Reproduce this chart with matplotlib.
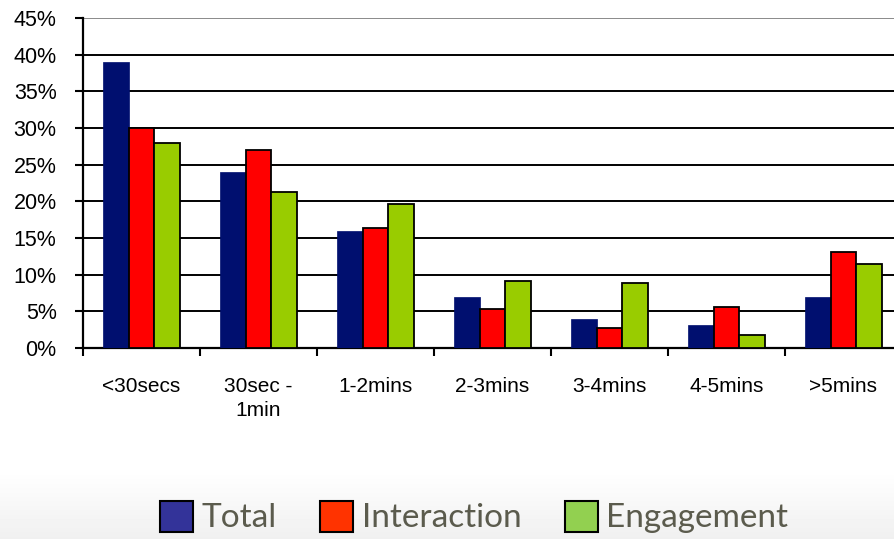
import numpy as np
import matplotlib.pyplot as plt
from matplotlib.patches import Patch

categories = ["<30secs", "30sec -\n1min", "1-2mins", "2-3mins", "3-4mins", "4-5mins", ">5mins"]
total = [39, 24, 16, 6.9, 3.9, 3.1, 6.9]
interaction = [30, 27, 16.4, 5.3, 2.7, 5.6, 13.1]
engagement = [28, 21.3, 19.6, 9.1, 8.8, 1.8, 11.4]
series_names = ["Total", "Interaction", "Engagement"]

fig = plt.figure(figsize=(8.95, 5.39), dpi=100)

# soft grey fade along the bottom of the slide
bg = fig.add_axes([0, 0, 1, 1], zorder=-10)
fade = np.ones((539, 1))
start = 470
fade[start:, 0] = np.linspace(1.0, 0.94, 539 - start)
bg.imshow(fade, cmap="gray", vmin=0, vmax=1, aspect="auto", extent=[0, 1, 0, 1])
bg.axis("off")

ax = fig.add_axes([83 / 895, 191 / 539, 819 / 895, 330 / 539])
x = np.arange(len(categories))
w = 0.222

ax.bar(x - w, total, w, color="#000f6f", edgecolor="#000f6f", linewidth=0.5, zorder=3)
ax.bar(x, interaction, w, color="#ff0000", edgecolor="black", linewidth=1.3, zorder=3)
ax.bar(x + w, engagement, w, color="#99cc00", edgecolor="black", linewidth=1.3, zorder=3)

ax.set_xlim(-0.5, len(categories) - 0.5)
ax.set_ylim(0, 45)
ax.set_yticks(np.arange(0, 46, 5))
ax.set_yticklabels([f"{v}%" for v in range(0, 46, 5)], fontfamily="Liberation Sans", fontsize=15.5)
ax.yaxis.grid(True, color="black", linewidth=1.4)
ax.get_ygridlines()[-1].set_color("#8a8a8a")
ax.set_axisbelow(True)

# category labels sit between the boundary ticks
ax.set_xticks(x)
ax.set_xticklabels(categories, fontfamily="Liberation Sans", fontsize=15, linespacing=1.35)
ax.tick_params(axis="x", length=0, pad=21)
ax.set_xticks(np.arange(-0.5, len(categories)), minor=True)
ax.tick_params(axis="x", which="minor", length=6, width=1.5, color="black")
ax.tick_params(axis="y", length=6, width=1.5, color="black", pad=13)

for side in ["top", "right"]:
    ax.spines[side].set_visible(False)
for side in ["left", "bottom"]:
    ax.spines[side].set_linewidth(1.6)
    ax.spines[side].set_color("black")

handles = [
    Patch(facecolor="#333399", edgecolor="black", linewidth=1.5),
    Patch(facecolor="#ff3300", edgecolor="black", linewidth=1.5),
    Patch(facecolor="#92d050", edgecolor="black", linewidth=1.5),
]
leg = fig.legend(handles, series_names, loc="center", bbox_to_anchor=(474 / 895, 1 - 517 / 539),
                 ncol=3, frameon=False, handlelength=1.0, handleheight=1.05,
                 handletextpad=0.25, columnspacing=1.3,
                 prop={"family": "Lato", "size": 24})
for t in leg.get_texts():
    t.set_color("#5b5b4d")

fig.savefig("out.png", dpi=100)
